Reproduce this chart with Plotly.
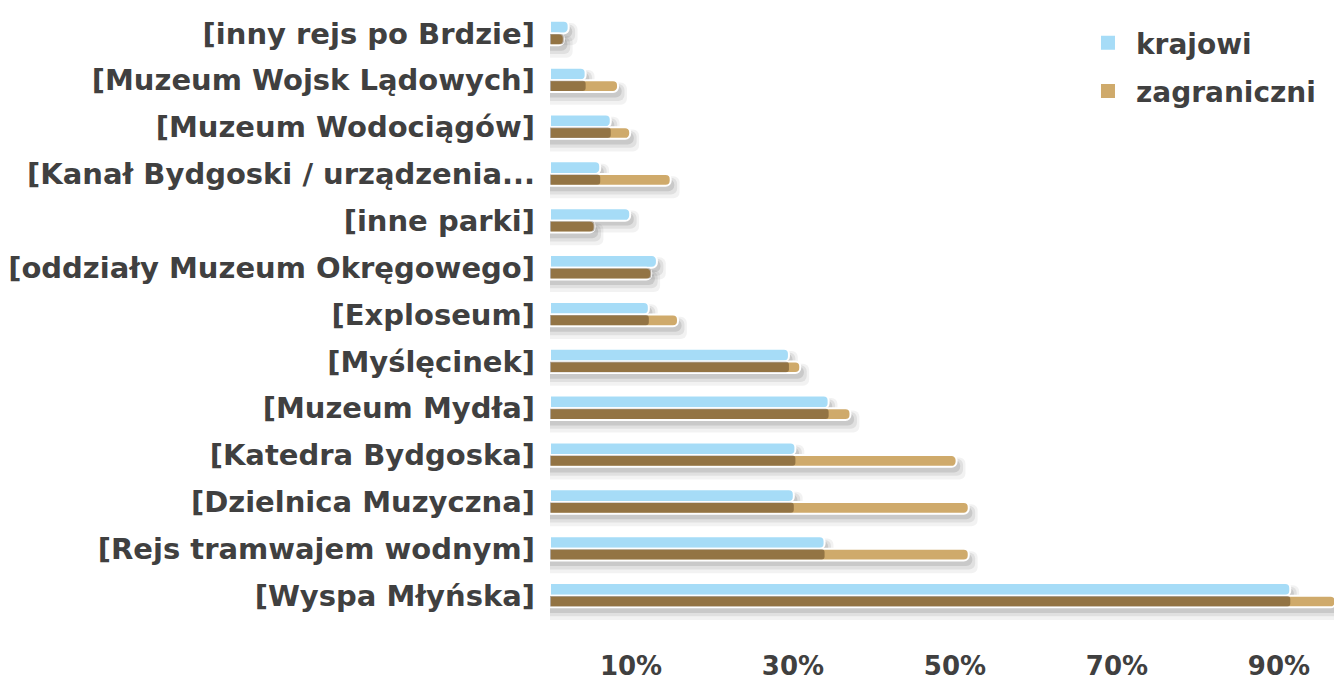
import plotly.graph_objects as go

categories = ["[inny rejs po Brdzie]", "[Muzeum Wojsk Lądowych]", "[Muzeum Wodociągów]",
              "[Kanał Bydgoski / urządzenia...", "[inne parki]", "[oddziały Muzeum Okręgowego]",
              "[Exploseum]", "[Myślęcinek]", "[Muzeum Mydła]", "[Katedra Bydgoska]",
              "[Dzielnica Muzyczna]", "[Rejs tramwajem wodnym]", "[Wyspa Młyńska]"]
krajowi = [2.3, 4.4, 7.5, 6.2, 9.9, 13.2, 12.2, 29.5, 34.4, 30.3, 30.1, 33.9, 91.4]
zagraniczni = [1.7, 8.4, 9.9, 14.9, 5.5, 12.5, 15.8, 30.9, 37.1, 50.2, 51.7, 51.7, 97.0]
series_names = ["krajowi", "zagraniczni"]
tick_vals = [10, 30, 50, 70, 90]
tick_text = ["10%", "30%", "50%", "70%", "90%"]

BLUE = "#a6dcf7"
TAN = "#cfaa6b"
TXT = "#404040"
FONT = "DejaVu Sans"

fig = go.Figure()

# soft drop shadows under each bar
for vals, base_off in [(krajowi, -0.27), (zagraniczni, 0.0)]:
    for off, w, ext, a in [(0.05, 0.47, 1.1, 0.05), (0.08, 0.36, 0.8, 0.07), (0.10, 0.27, 0.45, 0.10)]:
        fig.add_trace(go.Bar(
            y=categories, x=[v + ext for v in vals],
            orientation="h", offset=base_off + off, width=w,
            marker=dict(color=f"rgba(0,0,0,{a})", line=dict(width=0), cornerradius=6),
            showlegend=False, hoverinfo="skip"))

fig.add_trace(go.Bar(
    y=categories, x=krajowi, name=series_names[0], orientation="h",
    offset=-0.27, width=0.27, showlegend=False,
    marker=dict(color=BLUE, line=dict(color="white", width=2), cornerradius=5)))
fig.add_trace(go.Bar(
    y=categories, x=zagraniczni, name=series_names[1], orientation="h",
    offset=0.0, width=0.25, showlegend=False,
    marker=dict(color=TAN, line=dict(color="white", width=2), cornerradius=5)))
# shadow cast by the krajowi bar onto the zagraniczni bar
fig.add_trace(go.Bar(
    y=categories, x=[min(k, z) for k, z in zip(krajowi, zagraniczni)], orientation="h",
    offset=0.01, width=0.22,
    marker=dict(color="rgba(50,30,5,0.38)", line=dict(width=0), cornerradius=3),
    showlegend=False, hoverinfo="skip"))

# legend entries with larger square markers
for name, col in zip(series_names, [BLUE, TAN]):
    fig.add_trace(go.Scatter(
        x=[None], y=[None], mode="markers", name=name, legendgroup=name,
        marker=dict(symbol="square", size=17, color=col, line=dict(color="white", width=2))))

fig.update_layout(
    width=1334, height=681,
    barmode="overlay",
    plot_bgcolor="white", paper_bgcolor="white",
    margin=dict(l=550, r=0, t=10, b=61, autoexpand=False),
    font=dict(family=FONT, size=29, color=TXT, weight="bold"),
    legend=dict(x=0.676, y=0.987, xanchor="left", yanchor="top",
                font=dict(size=28, color=TXT, family=FONT, weight="bold"),
                bgcolor="rgba(0,0,0,0)", itemwidth=46, tracegroupgap=9),
    xaxis=dict(range=[0, 96.8], tickvals=tick_vals, ticktext=tick_text,
               showgrid=False, zeroline=False, showline=False, ticks="",
               ticklabelstandoff=28, tickfont=dict(size=26, color=TXT),
               automargin=False),
    yaxis=dict(autorange="reversed", showgrid=False, zeroline=False, showline=False,
               ticks="", ticklabelstandoff=14, tickfont=dict(size=29, color=TXT),
               automargin=False),
)

fig.write_html("out.html", config={"displayModeBar": False},
               post_script="document.body.style.margin='0';document.body.style.overflow='hidden';")
